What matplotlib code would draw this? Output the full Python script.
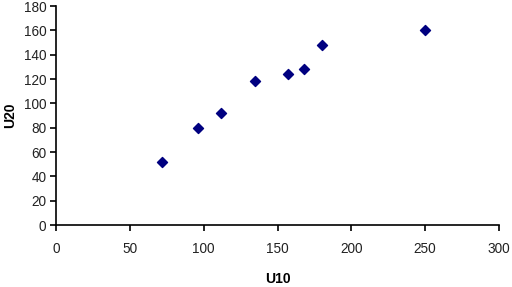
import matplotlib
matplotlib.use('Agg')
import matplotlib.pyplot as plt

u10 = [72, 96, 112, 135, 157, 168, 180, 250]
u20 = [52, 80, 92, 118, 124, 128, 148, 160]
x_ticks = [0, 50, 100, 150, 200, 250, 300]
y_ticks = [0, 20, 40, 60, 80, 100, 120, 140, 160, 180]

plt.rcParams['font.family'] = ['Liberation Sans', 'DejaVu Sans']

fig = plt.figure(figsize=(5.12, 2.87), dpi=100)
ax = fig.add_axes([0.1094, 0.216, 0.8652, 0.763])

ax.scatter(u10, u20, marker='D', s=26, color='#000080', edgecolors='#000080', zorder=3)

ax.set_xlim(0, 300)
ax.set_ylim(0, 180)
ax.set_xticks(x_ticks)
ax.set_yticks(y_ticks)
ax.spines['top'].set_visible(False)
ax.spines['right'].set_visible(False)
for s in ('left', 'bottom'):
    ax.spines[s].set_linewidth(1.2)
    ax.spines[s].set_color('black')
ax.tick_params(direction='out', length=4, width=1.2, labelsize=9.8, labelcolor='#222222')
ax.tick_params(axis='x', pad=8)
ax.tick_params(axis='y', pad=3)
ax.set_clip_on(False)

ax.set_xlabel('U10', fontsize=10, fontweight='bold', labelpad=12)
ax.set_ylabel('U20', fontsize=10, fontweight='bold', labelpad=5)

fig.savefig('out.png', dpi=100)
plt.close(fig)
